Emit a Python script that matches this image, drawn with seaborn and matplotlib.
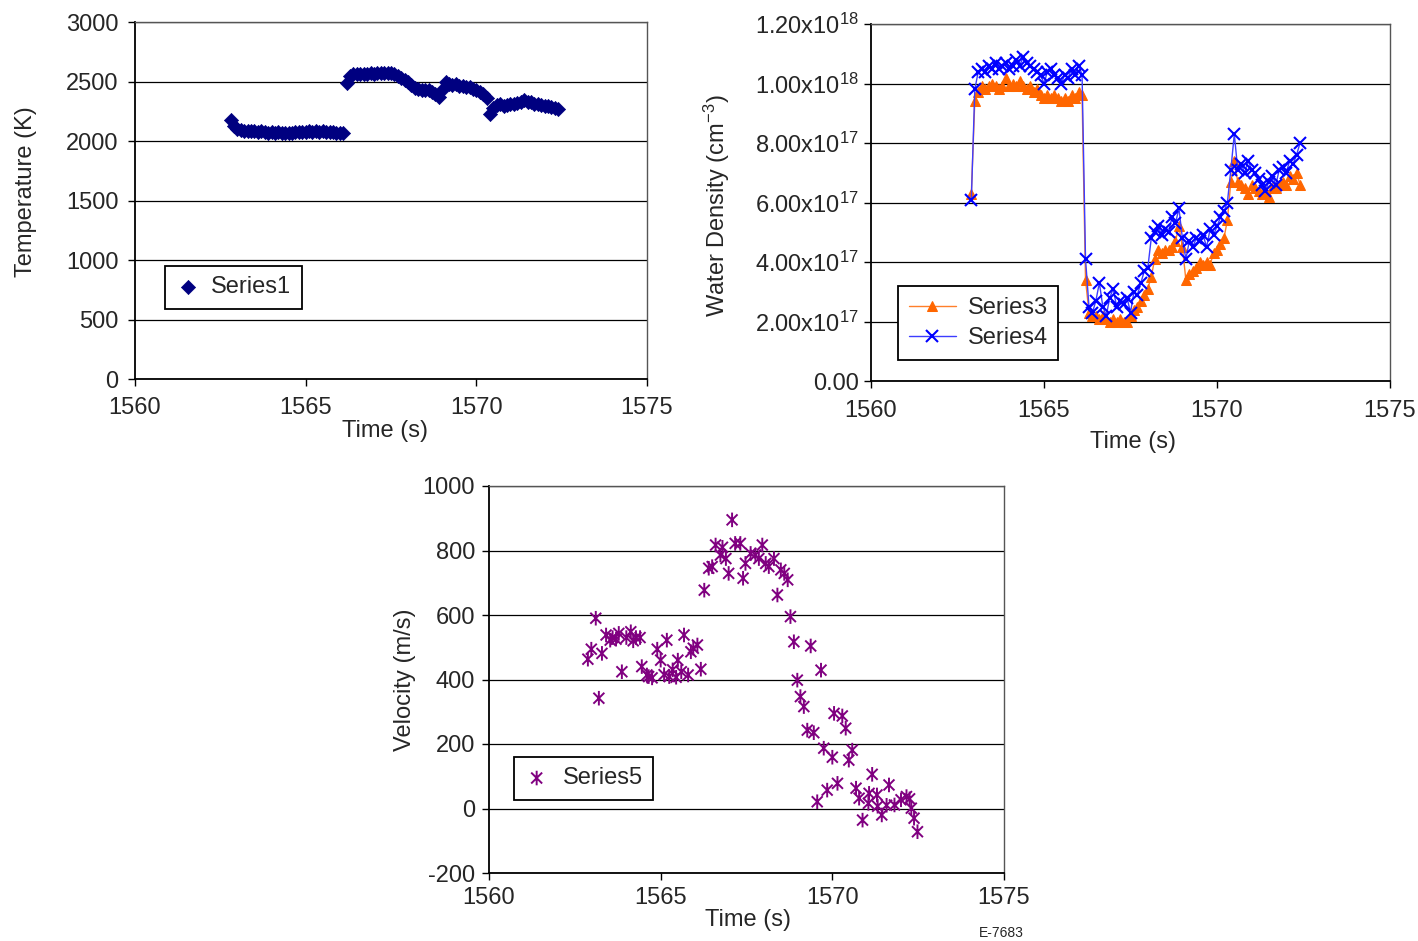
import numpy as np
import matplotlib
matplotlib.use("Agg")
import matplotlib.pyplot as plt
from matplotlib.path import Path
from matplotlib.ticker import FuncFormatter, MultipleLocator
import seaborn as sns

# ---------------- data ----------------
time_s = [1562.8, 1562.9,
          1563.0, 1563.1, 1563.2, 1563.3, 1563.4, 1563.5, 1563.6, 1563.7, 1563.8, 1563.9,
          1564.0, 1564.1, 1564.2, 1564.3, 1564.4, 1564.5, 1564.6, 1564.7, 1564.8, 1564.9,
          1565.0, 1565.1, 1565.2, 1565.3, 1565.4, 1565.5, 1565.6, 1565.7, 1565.8, 1565.9,
          1566.0, 1566.1, 1566.2, 1566.3, 1566.4, 1566.5, 1566.6, 1566.7, 1566.8, 1566.9,
          1567.0, 1567.1, 1567.2, 1567.3, 1567.4, 1567.5, 1567.6, 1567.7, 1567.8, 1567.9,
          1568.0, 1568.1, 1568.2, 1568.3, 1568.4, 1568.5, 1568.6, 1568.7, 1568.8, 1568.9,
          1569.0, 1569.1, 1569.2, 1569.3, 1569.4, 1569.5, 1569.6, 1569.7, 1569.8, 1569.9,
          1570.0, 1570.1, 1570.2, 1570.3, 1570.4, 1570.5, 1570.6, 1570.7, 1570.8, 1570.9,
          1571.0, 1571.1, 1571.2, 1571.3, 1571.4, 1571.5, 1571.6, 1571.7, 1571.8, 1571.9,
          1572.0, 1572.1, 1572.2, 1572.3, 1572.4]

temperature_K = [2180, 2130,
                 2100, 2090, 2085, 2080, 2085, 2080, 2075, 2080, 2075, 2070,
                 2075, 2070, 2072, 2068, 2070, 2065, 2070, 2072, 2075, 2078,
                 2072, 2080, 2075, 2082, 2078, 2085, 2078, 2075, 2072, 2070,
                 2068, 2070, 2490, 2545, 2565, 2560, 2565, 2560, 2565, 2570,
                 2565, 2570, 2575, 2572, 2575, 2568, 2560, 2545, 2530, 2515,
                 2495, 2470, 2445, 2435, 2430, 2432, 2425, 2410, 2398, 2370,
                 2430, 2500, 2480, 2470, 2475, 2465, 2460, 2450, 2450, 2440,
                 2430, 2415, 2395, 2360, 2225, 2280, 2300, 2310, 2290, 2305,
                 2310, 2315, 2320, 2330, 2345, 2330, 2325, 2315, 2310, 2300,
                 2295, 2290, 2285, 2275, 2270]

# water density, in units of 1e18 cm^-3
series3 = [np.nan, 0.63,
           0.94, 0.97, 0.99, 0.98, 0.99, 1.00, 0.99, 0.98, 0.99, 1.02,
           0.99, 1.00, 0.99, 1.01, 0.99, 0.98, 0.99, 0.97, 0.98, 0.96,
           0.95, 0.96, 0.95, 0.96, 0.95, 0.94, 0.95, 0.94, 0.96, 0.95,
           0.97, 0.96, 0.34, 0.23, 0.22, 0.22, 0.21, 0.22, 0.21, 0.20,
           0.21, 0.20, 0.21, 0.20, 0.20, 0.22, 0.24, 0.25, 0.27, 0.29,
           0.31, 0.35, 0.41, 0.44, 0.43, 0.44, 0.44, 0.45, 0.47, 0.52,
           0.45, 0.34, 0.36, 0.37, 0.38, 0.40, 0.39, 0.40, 0.39, 0.43,
           0.44, 0.46, 0.48, 0.54, 0.67, 0.74, 0.67, 0.66, 0.65, 0.63,
           0.66, 0.65, 0.64, 0.63, 0.64, 0.62, 0.65, 0.65, 0.66, 0.67,
           0.66, 0.69, 0.68, 0.70, 0.66]

series4 = [np.nan, 0.61,
           0.98, 1.04, 1.05, 1.04, 1.06, 1.05, 1.07, 1.05, 1.06, 1.07,
           1.05, 1.06, 1.08, 1.06, 1.09, 1.07, 1.06, 1.05, 1.04, 1.03,
           1.00, 1.04, 1.05, 1.03, 1.02, 1.00, 1.03, 1.02, 1.05, 1.03,
           1.06, 1.03, 0.41, 0.25, 0.23, 0.27, 0.33, 0.25, 0.22, 0.28,
           0.31, 0.25, 0.27, 0.26, 0.28, 0.23, 0.30, 0.29, 0.33, 0.37,
           0.38, 0.48, 0.50, 0.52, 0.49, 0.51, 0.50, 0.55, 0.53, 0.58,
           0.48, 0.41, 0.47, 0.45, 0.48, 0.47, 0.49, 0.45, 0.51, 0.49,
           0.52, 0.55, 0.57, 0.60, 0.71, 0.83, 0.71, 0.73, 0.70, 0.74,
           0.71, 0.70, 0.68, 0.66, 0.64, 0.67, 0.69, 0.66, 0.71, 0.72,
           0.70, 0.74, 0.73, 0.76, 0.80]

vel_time_s = [1562.88, 1562.98, 1563.11, 1563.20, 1563.29, 1563.41, 1563.53, 1563.60, 1563.70, 1563.78,
              1563.87, 1564.00, 1564.13, 1564.20, 1564.28, 1564.40, 1564.45, 1564.60, 1564.65, 1564.75,
              1564.90, 1565.00, 1565.10, 1565.18, 1565.25, 1565.35, 1565.45, 1565.50, 1565.60, 1565.68,
              1565.80, 1565.88, 1565.95, 1566.07, 1566.17,
              1566.27, 1566.40, 1566.50, 1566.60, 1566.74, 1566.80, 1566.90, 1566.98, 1567.08, 1567.17,
              1567.32, 1567.40, 1567.47, 1567.62, 1567.76, 1567.86, 1567.96, 1568.06, 1568.15, 1568.30,
              1568.40, 1568.50, 1568.60, 1568.70, 1568.78,
              1568.88, 1568.98, 1569.07, 1569.17, 1569.27, 1569.37, 1569.46, 1569.56, 1569.67, 1569.75,
              1569.85, 1570.00, 1570.05, 1570.15, 1570.29, 1570.39, 1570.48, 1570.58, 1570.69, 1570.78,
              1570.88, 1571.05, 1571.07, 1571.16, 1571.30, 1571.32, 1571.44, 1571.58, 1571.65, 1571.81,
              1572.00, 1572.16, 1572.25, 1572.30, 1572.38, 1572.48]

velocity_ms = [463, 494, 590, 342, 481, 538, 522, 530, 525, 543,
               424, 530, 548, 520, 530, 530, 440, 414, 409, 405,
               494, 460, 415, 522, 409, 430, 407, 460, 424, 538,
               414, 486, 497, 507, 432,
               677, 745, 750, 817, 786, 810, 775, 729, 895, 822,
               822, 714, 760, 791, 786, 775, 817, 760, 750, 775,
               662, 740, 729, 709, 595,
               517, 398, 347, 316, 243, 504, 235, 21, 429, 187,
               57, 159, 295, 78, 287, 249, 150, 181, 63, 32,
               -36, 16, 47, 106, 42, 7, -20, 10, 73, 11,
               27, 37, 30, 1, -30, -72]

x_ticks = [1560, 1565, 1570, 1575]

# ---------------- style ----------------
sns.set_theme(style="white")
plt.rcParams["font.family"] = ["Liberation Sans", "DejaVu Sans"]
plt.rcParams["mathtext.fontset"] = "custom"
plt.rcParams["mathtext.rm"] = "Liberation Sans"
plt.rcParams["mathtext.it"] = "Liberation Sans:italic"
plt.rcParams["mathtext.default"] = "regular"
plt.rcParams["axes.unicode_minus"] = False

FS = 17
fig = plt.figure(figsize=(14.18, 9.41), dpi=100)
W, H = 1418, 941


def add_axes(l, r, t, b):
    return fig.add_axes([l / W, 1 - b / H, (r - l) / W, (b - t) / H])


ax1 = add_axes(135, 647, 22, 379)
ax2 = add_axes(871, 1390, 24, 381)
ax3 = add_axes(489, 1004, 486, 873)


def style(ax, ylim, ystep, xpad, ypad):
    ax.set_xlim(1560, 1575)
    ax.set_xticks(x_ticks)
    ax.yaxis.set_major_locator(MultipleLocator(ystep))
    ax.set_ylim(*ylim)
    ax.yaxis.grid(True, color="black", lw=0.9)
    ax.xaxis.grid(False)
    ax.set_axisbelow(True)
    for s in ["left", "bottom"]:
        ax.spines[s].set_color("black")
        ax.spines[s].set_linewidth(1.3)
    for s in ["top", "right"]:
        ax.spines[s].set_color("#555555")
        ax.spines[s].set_linewidth(1.0)
    ax.tick_params(axis="both", which="major", direction="out", length=5, width=1,
                   color="black", labelsize=FS, bottom=True, left=True)
    ax.tick_params(axis="x", pad=xpad)
    ax.tick_params(axis="y", pad=ypad)
    ax.set_facecolor("white")


# ---- temperature ----
sns.scatterplot(x=time_s, y=temperature_K, ax=ax1, marker="D", s=52,
                color="#000080", edgecolor="#000080", linewidth=0.5,
                label="Series1", legend=False, zorder=3)
style(ax1, (0, 3000), 500, 8, 7)
ax1.set_xlabel("Time (s)", fontsize=FS)
ax1.set_ylabel("Temperature (K)", fontsize=FS)
ax1.xaxis.set_label_coords(0.488, -0.114)
ax1.yaxis.set_label_coords(-0.192, 0.524)
leg1 = ax1.legend(loc="lower left", bbox_to_anchor=(0.059, 0.196), fontsize=FS,
                  frameon=True, fancybox=False, edgecolor="black", framealpha=1,
                  handlelength=1.0, handletextpad=0.5, borderpad=0.45, borderaxespad=0)
leg1.get_frame().set_linewidth(1.3)

# ---- water density ----
scale = 1e18
sns.lineplot(x=time_s, y=np.array(series3) * scale, ax=ax2, color="#ff7f2a",
             lw=1.0, marker="^", markersize=6.5, markerfacecolor="#ff6600",
             markeredgecolor="#ff6600", label="Series3", estimator=None, sort=False,
             legend=False, zorder=3)
sns.lineplot(x=time_s, y=np.array(series4) * scale, ax=ax2, color="#3c3cff",
             lw=1.0, marker="x", markersize=9, markeredgecolor="#0000ff",
             markeredgewidth=1.5, label="Series4", estimator=None, sort=False,
             legend=False, zorder=4)
style(ax2, (0, 1.2e18), 2e17, 9, 4)


def sci_fmt(v, pos):
    if v < 1e10:
        return "0.00"
    e = int(np.floor(np.log10(v) + 1e-9))
    m = v / 10 ** e
    return "%.2fx10$^{%d}$" % (m, e)


ax2.yaxis.set_major_formatter(FuncFormatter(sci_fmt))
ax2.set_xlabel("Time (s)", fontsize=FS)
ax2.set_ylabel("Water Density (cm$^{-3}$)", fontsize=FS)
ax2.xaxis.set_label_coords(0.505, -0.14)
ax2.yaxis.set_label_coords(-0.268, 0.49)
leg2 = ax2.legend(loc="lower left", bbox_to_anchor=(0.052, 0.059), fontsize=FS,
                  frameon=True, fancybox=False, edgecolor="black", framealpha=1,
                  handlelength=2.0, handletextpad=0.5, borderpad=0.45,
                  labelspacing=0.35, borderaxespad=0)
leg2.get_frame().set_linewidth(1.3)

# ---- velocity ----
star = Path([(-0.75, -0.75), (0.75, 0.75), (-0.75, 0.75), (0.75, -0.75), (0, -1), (0, 1)],
            [Path.MOVETO, Path.LINETO, Path.MOVETO, Path.LINETO, Path.MOVETO, Path.LINETO])
sns.scatterplot(x=vel_time_s, y=velocity_ms, ax=ax3, marker=star, s=110,
                color="#800080", edgecolor="#800080", facecolor="none", linewidth=1.4,
                label="Series5", legend=False, zorder=3)
style(ax3, (-200, 1000), 200, 5, 5)
ax3.set_xlabel("Time (s)", fontsize=FS)
ax3.set_ylabel("Velocity (m/s)", fontsize=FS)
ax3.xaxis.set_label_coords(0.503, -0.092)
ax3.yaxis.set_label_coords(-0.142, 0.5)
leg3 = ax3.legend(loc="lower left", bbox_to_anchor=(0.049, 0.189), fontsize=FS,
                  frameon=True, fancybox=False, edgecolor="black", framealpha=1,
                  handlelength=1.0, handletextpad=0.6, borderpad=0.45, borderaxespad=0)
leg3.get_frame().set_linewidth(1.3)

fig.text(1001 / W, 1 - 933 / H, "E-7683", fontsize=10, ha="center", va="center")

fig.savefig("out.png", dpi=100, facecolor="white")
